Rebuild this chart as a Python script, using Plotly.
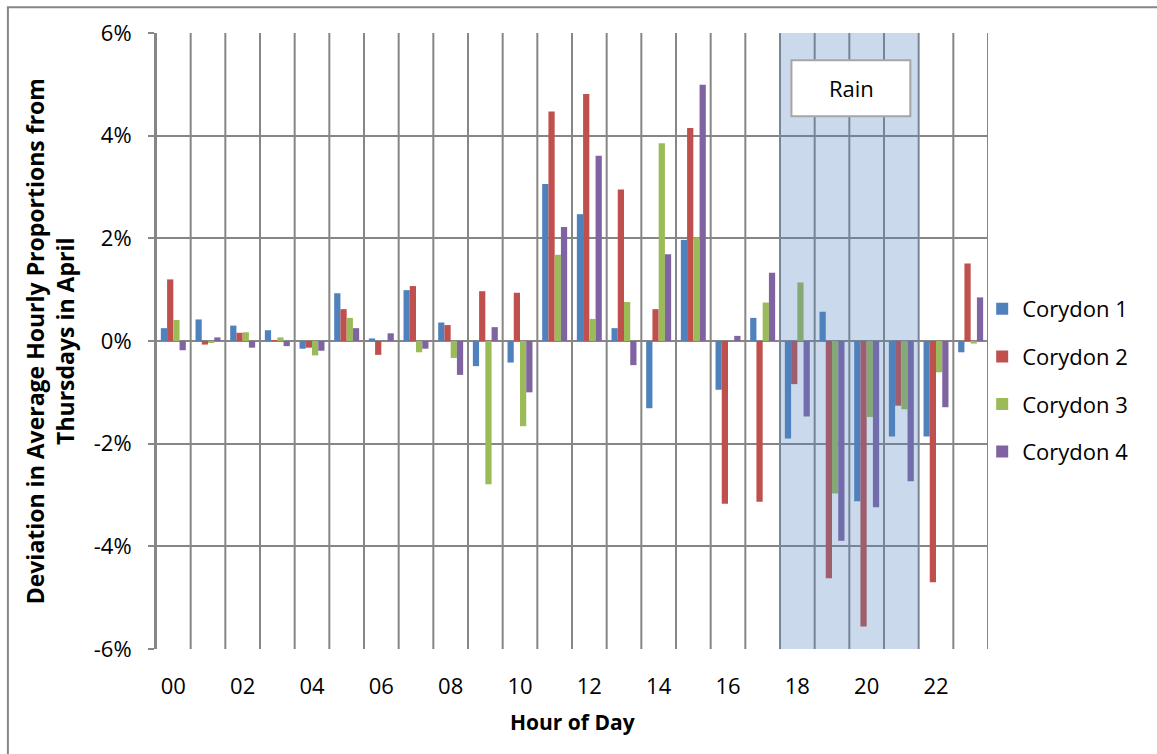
import plotly.graph_objects as go

hours = list(range(24))
hour_labels = ["00", "02", "04", "06", "08", "10", "12", "14", "16", "18", "20", "22"]
series_names = ["Corydon 1", "Corydon 2", "Corydon 3", "Corydon 4"]
colors = ["#4f81bd", "#c0504d", "#9bbb59", "#8064a2"]

corydon1 = [0.25, 0.42, 0.30, 0.21, -0.15, 0.93, 0.05, 0.99, 0.36, -0.49, -0.42, 3.06,
            2.47, 0.25, -1.31, 1.97, -0.95, 0.45, -1.90, 0.57, -3.12, -1.86, -1.86, -0.22]
corydon2 = [1.20, -0.07, 0.16, 0.01, -0.13, 0.62, -0.27, 1.07, 0.31, 0.97, 0.94, 4.47,
            4.81, 2.95, 0.62, 4.15, -3.17, -3.13, -0.84, -4.62, -5.56, -1.26, -4.70, 1.51]
corydon3 = [0.41, -0.03, 0.17, 0.07, -0.28, 0.45, 0.00, -0.22, -0.33, -2.79, -1.66, 1.68,
            0.43, 0.76, 3.85, 2.02, 0.00, 0.75, 1.14, -2.97, -1.48, -1.33, -0.61, -0.05]
corydon4 = [-0.18, 0.07, -0.13, -0.10, -0.19, 0.25, 0.15, -0.15, -0.66, 0.27, -1.00, 2.22,
            3.61, -0.47, 1.69, 4.99, 0.10, 1.33, -1.47, -3.89, -3.24, -2.73, -1.29, 0.85]
series = [corydon1, corydon2, corydon3, corydon4]

y_ticks = [-6, -4, -2, 0, 2, 4, 6]
y_tick_text = ["-6%", "-4%", "-2%", "0%", "2%", "4%", "6%"]
rain_start, rain_end = 18, 21
rain_label = "Rain"

FONT = "Open Sans"
GRID = "#868686"

fig = go.Figure()
for i, (name, vals, col) in enumerate(zip(series_names, series, colors)):
    fig.add_trace(go.Bar(
        x=hours, y=vals, name=name, marker=dict(color=col, line=dict(width=0)),
        legendgroup=f"g{i}",
    ))

shapes = []
# vertical gridlines at category boundaries
for b in range(len(hours) + 1):
    shapes.append(dict(type="line", xref="x", yref="y", x0=b - 0.5, x1=b - 0.5,
                       y0=y_ticks[0], y1=y_ticks[-1], line=dict(color=GRID, width=2),
                       layer="between"))
# rain shading
shapes.append(dict(type="rect", xref="x", yref="y", x0=rain_start - 0.5, x1=rain_end + 0.5,
                   y0=y_ticks[0], y1=y_ticks[-1], fillcolor="#4f81bd", opacity=0.3,
                   line=dict(width=0), layer="above"))
# rain label box
shapes.append(dict(type="rect", xref="x", yref="y", x0=rain_start - 0.17, x1=rain_end + 0.26,
                   y0=4.38, y1=5.47, fillcolor="white", line=dict(color="#a6a6a6", width=2),
                   layer="above"))
# outer chart border
shapes.append(dict(type="rect", xref="paper", yref="paper", x0=-0.178, x1=1.25,
                   y0=-0.25, y1=1.042, line=dict(color=GRID, width=2), layer="below"))

annotations = [
    dict(text=rain_label, xref="x", yref="y", x=(rain_start + rain_end) / 2 + 0.05, y=4.93,
         showarrow=False, font=dict(family=FONT, size=22, color="black"),
         xanchor="center", yanchor="middle"),
    dict(text="<b>Hour of Day</b>", xref="paper", yref="paper", x=0.5, y=-0.118,
         showarrow=False, font=dict(family=FONT, size=21, color="black"),
         xanchor="center", yanchor="middle"),
    dict(text="<b>Deviation in Average Hourly Proportions from<br>Thursdays in April</b>",
         xref="paper", yref="paper", x=-0.127, y=0.5, textangle=-90, showarrow=False,
         font=dict(family=FONT, size=23, color="black"), xanchor="center", yanchor="middle"),
]

fig.update_layout(
    width=1157, height=754,
    margin=dict(l=156, r=169, t=33, b=105),
    paper_bgcolor="white", plot_bgcolor="white",
    font=dict(family=FONT, size=22, color="black"),
    barmode="group", bargap=0.28, bargroupgap=0,
    shapes=shapes, annotations=annotations,
    legend=dict(x=0.993, y=0.586, xanchor="left", yanchor="top",
                font=dict(family=FONT, size=22), tracegroupgap=16,
                traceorder="grouped", bgcolor="rgba(0,0,0,0)"),
    showlegend=True,
)
fig.update_xaxes(
    range=[-0.5, 23.5], showgrid=False, zeroline=False, showline=False,
    tickmode="array", tickvals=hours[::2], ticktext=hour_labels, ticks="",
    ticklabelstandoff=22, tickfont=dict(family=FONT, size=22),
)
fig.update_yaxes(
    range=[y_ticks[0], y_ticks[-1]], tickmode="array", tickvals=y_ticks, ticktext=y_tick_text,
    showgrid=True, gridcolor=GRID, gridwidth=2, zeroline=True, zerolinecolor=GRID,
    zerolinewidth=2, showline=True, linecolor=GRID, linewidth=2, ticks="outside",
    ticklen=6, tickcolor=GRID, tickwidth=2, ticklabelstandoff=12,
    tickfont=dict(family=FONT, size=22),
)

fig.write_html("out.html")
